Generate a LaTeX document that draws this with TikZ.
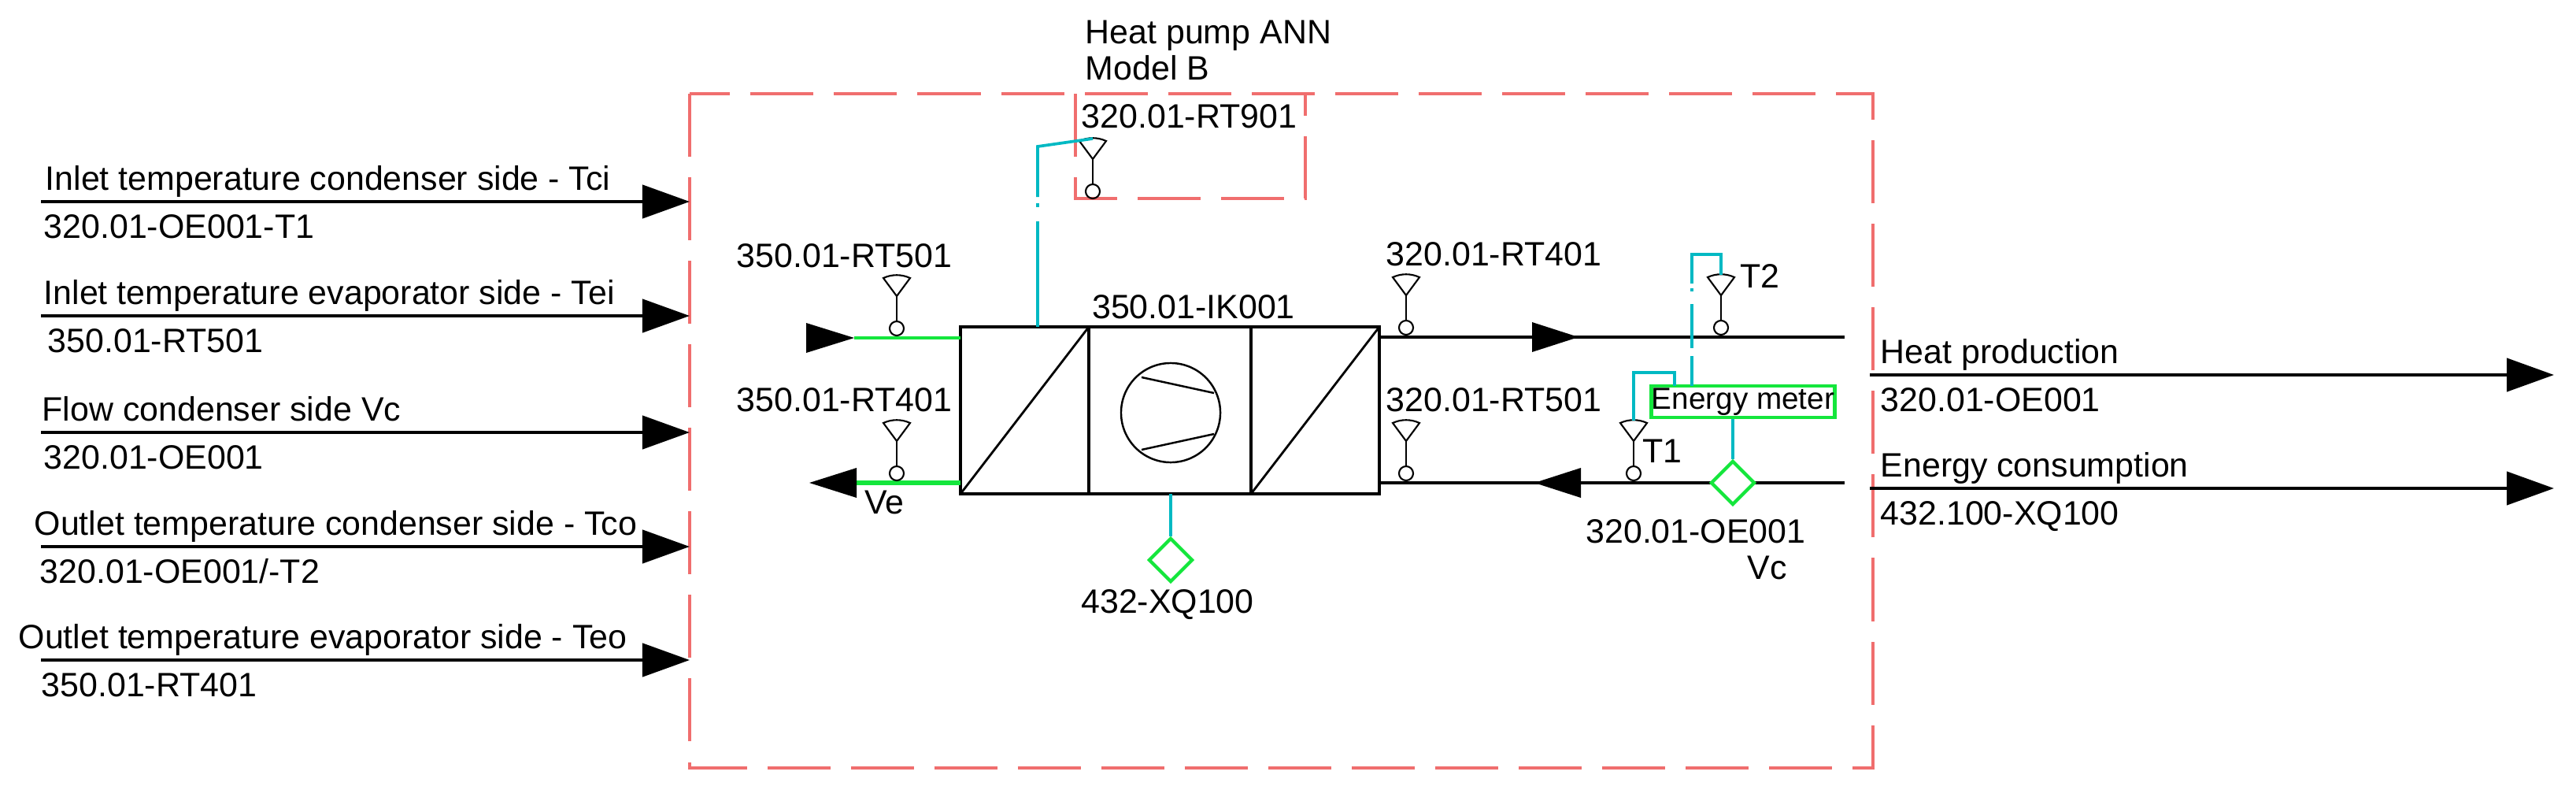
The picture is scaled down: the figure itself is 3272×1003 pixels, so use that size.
\documentclass[tikz,border=0pt]{standalone}
\usepackage{fontspec}
\setmainfont{Liberation Sans}
\usetikzlibrary{shapes.geometric,arrows.meta}
\definecolor{rd}{RGB}{240,110,110}
\definecolor{cy}{RGB}{0,185,195}
\definecolor{gr}{RGB}{20,230,60}
\begin{document}
\begin{tikzpicture}[x=0.01cm,y=-0.01cm,
  every node/.style={font=\fontsize{12.2}{13}\selectfont,inner sep=0pt},
  blk/.style={line width=1.25pt},
  frame/.style={draw=rd,line width=1pt,dash pattern=on 0.8cm off 0.26cm},
  cyl/.style={draw=cy,line width=1.05pt},
  io/.style={line width=1.25pt,-{Triangle[length=0.6cm,width=0.42cm]}},
  tri/.style={fill=black},
  dia/.style={diamond,draw=gr,line width=1.2pt,minimum width=0.56cm,minimum height=0.56cm,aspect=1,fill=white},
  sensor/.pic={
    \draw[line width=0.6pt] (0,-12) circle (0.09cm);
    \draw[line width=0.6pt] (0,-21) -- (0,-53);
    \draw[line width=0.6pt] (0,-53) -- (-17,-76) .. controls (-6,-81) and (6,-81) .. (17,-76) -- cycle;
    \coordinate (-top) at (0,-79);
  }]
\useasboundingbox (0,0) rectangle (3272,1003);
% frames
\draw[frame] (876,119) rectangle (2379,975);
\draw[frame] (1366,119) -- (1366,252) -- (1658,252) -- (1658,119);
\node[anchor=base west] (ann1) at (1378,55) {Heat pump ANN};
\node[anchor=base west] (ann2) at (1378,101) {Model B};
\node[anchor=base west] (rt901l) at (1373,162) {320.01-RT901};
\pic (s901) at (1388,255) {sensor};
% left inputs
\foreach \y/\a/\ax/\b/\bx [count=\i] in {
  256/{Inlet temperature condenser side - Tci}/57/{320.01-OE001-T1}/55,
  401/{Inlet temperature evaporator side - Tei}/55/{350.01-RT501}/60,
  549/{Flow condenser side Vc}/53/{320.01-OE001}/55,
  694/{Outlet temperature condenser side - Tco}/43/{320.01-OE001/-T2}/50,
  838/{Outlet temperature evaporator side - Teo}/23/{350.01-RT401}/52}{
  \coordinate (ls\i) at (52,\y);
  \coordinate (le\i) at (876,\y);
  \draw[io] (ls\i) -- (le\i);
  \node[anchor=base west] (la\i) at (\ax,\y-15) {\a};
  \node[anchor=base west] (lb\i) at (\bx,\y+46) {\b};
}
% heat pump box
\node[draw,blk,minimum width=5.32cm,minimum height=2.12cm] (hp) at (1486,521) {};
\draw[blk] (1383,415) -- (1383,627) (1589,415) -- (1589,627);
\draw[line width=0.8pt] (1220,627) -- (1383,415) (1589,627) -- (1752,415);
\node[draw,line width=0.7pt,circle,minimum size=1.26cm] (cmp) at (1487,524) {};
\draw[line width=0.7pt] (1450,479) -- (1542,499) (1450,571) -- (1542,551);
\node[anchor=base] (ik) at (1516,404) {350.01-IK001};
% left evaporator side
\coordinate (ei) at (1085,429);
\coordinate (eo) at (1028,613);
\draw[draw=gr,line width=0.9pt] (ei) -- (1220,429);
\fill[tri] (ei) -- (1024,410) -- (1024,448) -- cycle;
\draw[draw=gr,line width=1.5pt] (1088,613) -- (1220,613);
\fill[tri] (eo) -- (1088,594) -- (1088,632) -- cycle;
\pic (s501) at (1139,429) {sensor};
\pic (s401) at (1139,613) {sensor};
\node[anchor=base east] (l501) at (1210,339) {350.01-RT501};
\node[anchor=base east] (l401) at (1210,522) {350.01-RT401};
\node[anchor=base west] (ve) at (1098,652) {Ve};
% RT901 signal
\coordinate (c1) at (1318,186);
\coordinate (c2) at (1318,415);
\draw[cyl] (s901-top) -- (c1) -- (1318,250);
\draw[cyl] (1318,258) -- (1318,263);
\draw[cyl] (1318,281) -- (c2);
% compressor meter
\node[dia] (xq) at (1487,711) {};
\draw[cyl] (1487,627) -- (xq.north);
\node[anchor=base] (xql) at (1483,778) {432-XQ100};
% right condenser side
\draw[blk] (1752,428) -- (2343,428);
\fill[tri] (2005,428) -- (1946,409) -- (1946,447) -- cycle;
\draw[blk] (1752,613) -- (2343,613);
\fill[tri] (1949,613) -- (2008,594) -- (2008,632) -- cycle;
\pic (r401) at (1786,428) {sensor};
\pic (r501) at (1786,613) {sensor};
\node[anchor=base west] (lr401) at (1760,337) {320.01-RT401};
\node[anchor=base west] (lr501) at (1760,522) {320.01-RT501};
\pic (t2) at (2186,428) {sensor};
\pic (t1) at (2075,613) {sensor};
\node[anchor=base west] (t2l) at (2210,365) {T2};
\node[anchor=base west] (t1l) at (2086,587) {T1};
\node[draw=gr,line width=1.2pt,minimum width=2.33cm,minimum height=0.40cm,fill=white,font=\fontsize{11}{12}\selectfont] (em) at (2214,510) {Energy meter};
\node[dia] (vc) at (2201,613) {};
\draw[cyl] (em.south -| vc) -- (vc.north);
\draw[cyl] (t1-top) -- (2075,473) -- (2127,473) -- (2127,490);
\draw[cyl] (t2-top) -- (2186,323) -- (2149,323) -- (2149,360);
\draw[cyl] (2149,366) -- (2149,370);
\draw[cyl] (2149,386) -- (2149,442);
\draw[cyl] (2149,452) -- (2149,490);
\node[anchor=base] (vcl1) at (2154,689) {320.01-OE001};
\node[anchor=base] (vcl2) at (2245,735) {Vc};
% outputs
\coordinate (hs) at (2375,476);
\coordinate (he) at (3244,476);
\coordinate (es) at (2375,620);
\coordinate (ee) at (3244,620);
\draw[io] (hs) -- (he);
\draw[io] (es) -- (ee);
\node[anchor=base west] (hpl) at (2388,461) {Heat production};
\node[anchor=base west] (hpb) at (2388,522) {320.01-OE001};
\node[anchor=base west] (ecl) at (2388,605) {Energy consumption};
\node[anchor=base west] (ecb) at (2388,666) {432.100-XQ100};
\end{tikzpicture}
\end{document}
